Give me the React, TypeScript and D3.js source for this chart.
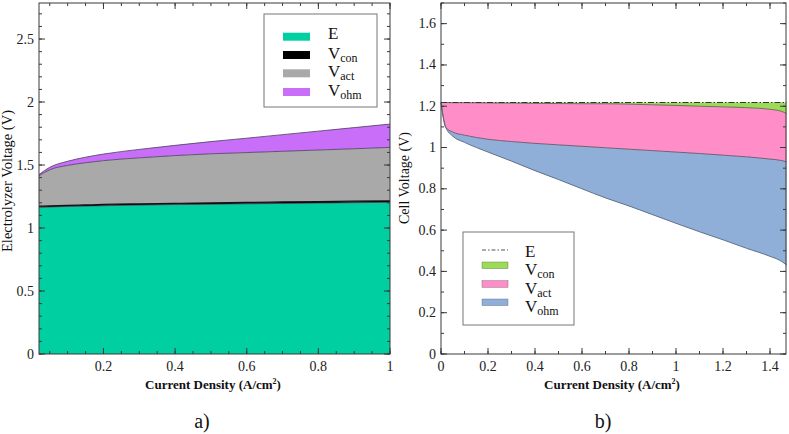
import React from "react";
import * as d3 from "d3";

// ---------- a) Electrolyzer ----------
const elCurrent = [0.02, 0.05, 0.1, 0.15, 0.2, 0.3, 0.4, 0.5, 0.6, 0.7, 0.8, 0.9, 1.0];
const elE = [1.165, 1.167, 1.171, 1.174, 1.177, 1.182, 1.186, 1.189, 1.192, 1.195, 1.198, 1.201, 1.204];
const elVcon = [0.008, 0.008, 0.009, 0.009, 0.01, 0.01, 0.01, 0.011, 0.011, 0.012, 0.012, 0.012, 0.012];
const elVact = [0.242, 0.287, 0.317, 0.335, 0.348, 0.365, 0.379, 0.389, 0.396, 0.402, 0.409, 0.416, 0.424];
const elVohm = [0.01, 0.02, 0.033, 0.044, 0.052, 0.067, 0.081, 0.097, 0.114, 0.132, 0.15, 0.168, 0.185];
const elXTicks = [0.2, 0.4, 0.6, 0.8, 1];
const elYTicks = [0, 0.5, 1, 1.5, 2, 2.5];

// ---------- b) Fuel cell ----------
const fcCurrent = [0, 0.02, 0.05, 0.1, 0.2, 0.3, 0.4, 0.5, 0.6, 0.7, 0.8, 0.9, 1.0, 1.1, 1.2, 1.3, 1.4, 1.45, 1.47];
const fcE = [1.218, 1.218, 1.218, 1.218, 1.218, 1.218, 1.218, 1.218, 1.218, 1.218, 1.218, 1.218, 1.218, 1.218, 1.218, 1.218, 1.218, 1.218, 1.218];
const fcAfterCon = [1.218, 1.218, 1.217, 1.217, 1.216, 1.215, 1.214, 1.213, 1.212, 1.212, 1.21, 1.207, 1.204, 1.2, 1.197, 1.193, 1.185, 1.175, 1.164];
const fcAfterAct = [1.218, 1.098, 1.075, 1.06, 1.04, 1.029, 1.02, 1.013, 1.006, 0.999, 0.992, 0.985, 0.978, 0.971, 0.963, 0.955, 0.944, 0.937, 0.931];
const fcCell = [1.218, 1.098, 1.055, 1.025, 0.978, 0.934, 0.888, 0.845, 0.8, 0.756, 0.717, 0.675, 0.633, 0.592, 0.553, 0.512, 0.473, 0.448, 0.431];
const fcXTicks = [0, 0.2, 0.4, 0.6, 0.8, 1, 1.2, 1.4];
const fcYTicks = [0, 0.2, 0.4, 0.6, 0.8, 1, 1.2, 1.4, 1.6];

const legendSubs = ["", "con", "act", "ohm"];
const elColors = ["#00CFA2", "#000000", "#A9A9A9", "#C86EF8"];
const fcColors = ["none", "#9BDB55", "#FF8EC8", "#8FAFD8"];

const FONT = "Liberation Serif";
const fs = { fontFamily: FONT };

type Scale = d3.ScaleLinear<number, number>;

function Frame({ x, y, xMajor, xMinor, yMajor, yMinor, fmt }: {
  x: Scale; y: Scale; xMajor: number[]; xMinor: number[]; yMajor: number[]; yMinor: number[]; fmt: (v: number) => string;
}) {
  const [xa, xb] = x.range();
  const [yb, ya] = y.range();
  const c = "#3a3a3a";
  const lines: React.ReactElement[] = [];
  const inX = (v: number) => x(v) >= xa - 0.5 && x(v) <= xb + 0.5;
  const inY = (v: number) => y(v) <= yb + 0.5 && y(v) >= ya - 0.5;
  xMinor.filter(inX).forEach((v, i) => {
    lines.push(<line key={"xm" + i} x1={x(v)} x2={x(v)} y1={yb} y2={yb - 3} stroke={c} />);
    lines.push(<line key={"xmt" + i} x1={x(v)} x2={x(v)} y1={ya} y2={ya + 3} stroke={c} />);
  });
  xMajor.filter(inX).forEach((v, i) => {
    lines.push(<line key={"xM" + i} x1={x(v)} x2={x(v)} y1={yb} y2={yb - 6} stroke={c} />);
    lines.push(<line key={"xMt" + i} x1={x(v)} x2={x(v)} y1={ya} y2={ya + 6} stroke={c} />);
  });
  yMinor.filter(inY).forEach((v, i) => {
    lines.push(<line key={"ym" + i} x1={xa} x2={xa + 3} y1={y(v)} y2={y(v)} stroke={c} />);
    lines.push(<line key={"ymr" + i} x1={xb} x2={xb - 3} y1={y(v)} y2={y(v)} stroke={c} />);
  });
  yMajor.filter(inY).forEach((v, i) => {
    lines.push(<line key={"yM" + i} x1={xa} x2={xa + 6} y1={y(v)} y2={y(v)} stroke={c} />);
    lines.push(<line key={"yMr" + i} x1={xb} x2={xb - 6} y1={y(v)} y2={y(v)} stroke={c} />);
  });
  return (
    <g>
      <rect x={xa} y={ya} width={xb - xa} height={yb - ya} fill="none" stroke={c} strokeWidth={1} />
      {lines}
      {xMajor.map((v) => (
        <text key={"xl" + v} x={x(v)} y={371} textAnchor="middle" fontSize={14} style={fs} fill="#222">{fmt(v)}</text>
      ))}
      {yMajor.map((v) => (
        <text key={"yl" + v} x={xa - 5} y={y(v) + 4.5} textAnchor="end" fontSize={14} style={fs} fill="#222">{fmt(v)}</text>
      ))}
    </g>
  );
}

function LegendLabel({ x, y, sub, size, subSize }: { x: number; y: number; sub: string; size: number; subSize: number }) {
  if (!sub) {
    return <text x={x} y={y} fontSize={size} style={fs} fill="#111">E</text>;
  }
  return (
    <text x={x} y={y} fontSize={size} style={fs} fill="#111">
      V<tspan fontSize={subSize} dy={3}>{sub}</tspan>
    </text>
  );
}

function XTitle({ cx }: { cx: number }) {
  return (
    <text x={cx} y={389} textAnchor="middle" fontSize={13} fontWeight="bold" style={fs} fill="#111">
      Current Density (A/cm<tspan fontSize={8} dy={-5}>2</tspan><tspan dy={5}>)</tspan>
    </text>
  );
}

export default function App() {
  const W = 789, H = 434;

  // a) scales
  const xA = d3.scaleLinear().domain([0.02, 1]).range([39, 390]);
  const yA = d3.scaleLinear().domain([0, 2.786]).range([354, 3]);
  const rowsA = elCurrent.map((c, i) => ({ x: c, E: elE[i], Vcon: elVcon[i], Vact: elVact[i], Vohm: elVohm[i] }));
  const keysA = ["E", "Vcon", "Vact", "Vohm"];
  const stackA = d3.stack<any>().keys(keysA)(rowsA);
  const areaA = d3.area<any>().x((d) => xA(d.data.x)).y0((d) => yA(d[0])).y1((d) => yA(d[1])).curve(d3.curveMonotoneX);
  const lineA = d3.line<any>().x((d) => xA(d.data.x)).y((d) => yA(d[1])).curve(d3.curveMonotoneX);

  // b) scales
  const xB = d3.scaleLinear().domain([0, 1.468]).range([441, 786]);
  const yB = d3.scaleLinear().domain([0, 1.7]).range([354, 3]);
  const bands: [number[], number[], string, string][] = [
    [fcE, fcAfterCon, fcColors[1], "#5d6b50"],
    [fcAfterCon, fcAfterAct, fcColors[2], "#6e5466"],
    [fcAfterAct, fcCell, fcColors[3], "#56657c"],
  ];
  const areaB = (top: number[], bot: number[]) =>
    d3.area<number>().x((_, i) => xB(fcCurrent[i])).y0((_, i) => yB(bot[i])).y1((_, i) => yB(top[i])).curve(d3.curveMonotoneX)(top.map((_, i) => i)) || "";
  const lineB = (vals: number[]) =>
    d3.line<number>().x((_, i) => xB(fcCurrent[i])).y((v) => yB(v)).curve(d3.curveMonotoneX)(vals) || "";

  const fmt = (v: number) => d3.format("~g")(v);

  const minorA_x = d3.range(1, 21).map((i) => +(i * 0.05).toFixed(2));
  const minorA_y = d3.range(0, 28).map((i) => +(i * 0.1).toFixed(1));
  const minorB_x = d3.range(0, 15).map((i) => +(i * 0.1).toFixed(1));
  const minorB_y = d3.range(0, 18).map((i) => +(i * 0.1).toFixed(1));

  const legA = { x: 264, y: 14, w: 113, h: 93, rows: [36.7, 55, 73.3, 92] };
  const legB = { x: 463, y: 232, w: 111, h: 93, rows: [250, 265.3, 284, 302.3] };

  return (
    <svg width={W} height={H} viewBox={`0 0 ${W} ${H}`} style={{ position: "absolute", left: 0, top: 0, background: "#fff" }}>
      <rect width={W} height={H} fill="#fff" />
      {/* ---------- panel a ---------- */}
      <g>
        {stackA.map((layer, i) => (
          <path key={"a" + i} d={areaA(layer) || ""} fill={elColors[i]} stroke="none" />
        ))}
        {stackA.map((layer, i) => (
          <path key={"al" + i} d={lineA(layer) || ""} fill="none" stroke={i === 1 ? "#111" : "#4a3f5a"} strokeWidth={i === 1 ? 1.2 : 0.8} />
        ))}
        <Frame x={xA} y={yA} xMajor={elXTicks} xMinor={minorA_x} yMajor={elYTicks} yMinor={minorA_y} fmt={fmt} />
        <text transform={`translate(12,181) rotate(-90)`} textAnchor="middle" fontSize={14.5} style={fs} fill="#111">
          Electrolyzer Voltage (V)
        </text>
        <XTitle cx={213} />
        <text x={202} y={428} textAnchor="middle" fontSize={20} style={fs} fill="#111">a)</text>
        {/* legend a */}
        <rect x={legA.x} y={legA.y} width={legA.w} height={legA.h} fill="#fff" stroke="#777" strokeWidth={1} />
        {keysA.map((k, i) => (
          <g key={"la" + k}>
            <rect x={283} y={legA.rows[i] - 4} width={27} height={8} fill={elColors[i]} />
            <LegendLabel x={328} y={legA.rows[i] + (i === 0 ? 2.5 : 3.5)} sub={legendSubs[i]} size={17} subSize={12} />
          </g>
        ))}
      </g>

      {/* ---------- panel b ---------- */}
      <g>
        {bands.map(([t, b, col], i) => (
          <path key={"b" + i} d={areaB(t, b)} fill={col} stroke="none" />
        ))}
        {bands.map(([, b, , sc], i) => (
          <path key={"bl" + i} d={lineB(b)} fill="none" stroke={sc} strokeWidth={0.9} />
        ))}
        <path d={lineB(fcE)} fill="none" stroke="#333" strokeWidth={1.1} strokeDasharray="6,2,1.5,2" />
        <Frame x={xB} y={yB} xMajor={fcXTicks} xMinor={minorB_x} yMajor={fcYTicks} yMinor={minorB_y} fmt={fmt} />
        <text transform={`translate(409,178) rotate(-90)`} textAnchor="middle" fontSize={14} style={fs} fill="#111">
          Cell Voltage (V)
        </text>
        <XTitle cx={612} />
        <text x={603} y={428} textAnchor="middle" fontSize={20} style={fs} fill="#111">b)</text>
        {/* legend b */}
        <rect x={legB.x} y={legB.y} width={legB.w} height={legB.h} fill="#fff" stroke="#777" strokeWidth={1} />
        {legendSubs.map((s, i) => (
          <g key={"lb" + i}>
            {i === 0 ? (
              <line x1={482} x2={508} y1={legB.rows[0]} y2={legB.rows[0]} stroke="#555" strokeWidth={1} strokeDasharray="4,2,1.5,2" />
            ) : (
              <rect x={482} y={legB.rows[i] - 3.3} width={26} height={6.6} fill={fcColors[i]} stroke={bands[i - 1][3]} strokeWidth={0.4} />
            )}
            <LegendLabel x={525} y={i === 0 ? 257 : legB.rows[i] + 9.5} sub={s} size={17} subSize={12} />
          </g>
        ))}
      </g>
    </svg>
  );
}
